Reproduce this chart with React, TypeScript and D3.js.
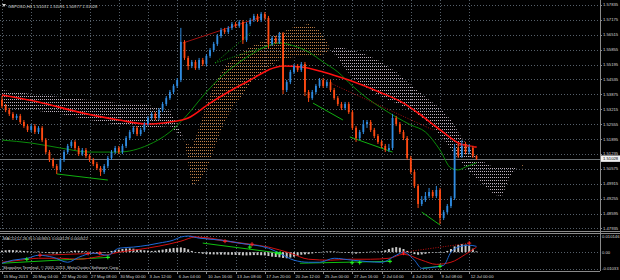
import React from "react";
import * as d3 from "d3";

// ---------- DATA ----------
const symbolTitle = "GBPUSD,H4 1.51031 1.51091 1.50977 1.51028";
const macdTitle = "MACD(12,26,9) 0.003651 0.003129 0.000522";
const copyright = "Skopalino Terminal, \u00a9 2001-2013, MetaQuotes Software Corp.";

const firstOpen = 1.5363;
const closes = [
  1.5336, 1.5318, 1.5301, 1.5283, 1.5292, 1.5265, 1.5247, 1.523, 1.5247, 1.5221,
  1.5239, 1.5185, 1.5132, 1.5097, 1.507, 1.5053, 1.5097, 1.5132, 1.5159, 1.5177,
  1.515, 1.5123, 1.5141, 1.5115, 1.5097, 1.5079, 1.5061, 1.5044, 1.507, 1.5106,
  1.5132, 1.515, 1.5132, 1.5159, 1.5194, 1.5221, 1.5239, 1.5212, 1.523, 1.5256,
  1.5283, 1.5301, 1.5283, 1.5318, 1.5345, 1.5371, 1.5398, 1.5425, 1.5451, 1.562,
  1.5549, 1.5513, 1.5531, 1.5504, 1.554, 1.5522, 1.5558, 1.5584, 1.5611, 1.5646,
  1.5673, 1.5664, 1.5682, 1.5699, 1.569, 1.5708, 1.5628, 1.5699, 1.5717, 1.5735,
  1.5717, 1.5744, 1.5726, 1.5611, 1.5637, 1.562, 1.5655, 1.5407, 1.5442, 1.5487,
  1.5513, 1.5496, 1.5522, 1.5398, 1.5371, 1.5398, 1.5425, 1.5451, 1.5425, 1.5442,
  1.5407, 1.5371, 1.5345, 1.5327, 1.5345, 1.5309, 1.5239, 1.5194, 1.5221, 1.5256,
  1.5265, 1.523, 1.5203, 1.5177, 1.5159, 1.5141, 1.515, 1.5283, 1.5256, 1.5221,
  1.5194, 1.5106, 1.5044, 1.4982, 1.4902, 1.492, 1.4937, 1.4955, 1.4937, 1.4964,
  1.484, 1.4866, 1.4893, 1.4928, 1.515, 1.5115, 1.5159, 1.5132, 1.515, 1.5115,
  1.5103,
];
const highs = [
  1.538, 1.5345, 1.5327, 1.5309, 1.5301, 1.5301, 1.5274, 1.5256, 1.5256, 1.5256,
  1.5247, 1.5247, 1.5194, 1.5141, 1.5106, 1.5079, 1.5106, 1.5141, 1.5168, 1.5185,
  1.5185, 1.5159, 1.515, 1.515, 1.5123, 1.5106, 1.5088, 1.507, 1.5079, 1.5115,
  1.5141, 1.5159, 1.5159, 1.5168, 1.5203, 1.523, 1.5247, 1.5247, 1.5239, 1.5265,
  1.5292, 1.5309, 1.5309, 1.5327, 1.5354, 1.538, 1.5407, 1.5433, 1.546, 1.5682,
  1.5628, 1.5558, 1.554, 1.554, 1.5549, 1.5549, 1.5566, 1.5593, 1.562, 1.5655,
  1.5682, 1.5682, 1.569, 1.5708, 1.5708, 1.5717, 1.5717, 1.5708, 1.5726, 1.5744,
  1.5744, 1.5752, 1.5752, 1.5735, 1.5646, 1.5646, 1.5664, 1.5664, 1.5451, 1.5496,
  1.5522, 1.5522, 1.5531, 1.5531, 1.5407, 1.5407, 1.5433, 1.546, 1.546, 1.5451,
  1.5451, 1.5416, 1.538, 1.5354, 1.5354, 1.5354, 1.5318, 1.5247, 1.523, 1.5274,
  1.5274, 1.5274, 1.5239, 1.5212, 1.5185, 1.5168, 1.5168, 1.5301, 1.5292, 1.5265,
  1.523, 1.5203, 1.5115, 1.5053, 1.499, 1.4937, 1.4955, 1.4973, 1.4964, 1.4982,
  1.4973, 1.4875, 1.4902, 1.4937, 1.5168, 1.5168, 1.5185, 1.5177, 1.5168, 1.5159,
  1.5118,
];
const lows = [
  1.5327, 1.5309, 1.5292, 1.5274, 1.5274, 1.5256, 1.5239, 1.5221, 1.5221, 1.5212,
  1.5212, 1.5177, 1.5123, 1.5088, 1.5061, 1.5035, 1.5044, 1.5088, 1.5123, 1.515,
  1.5141, 1.5115, 1.5115, 1.5106, 1.5088, 1.507, 1.5053, 1.5026, 1.5035, 1.5061,
  1.5097, 1.5123, 1.5123, 1.5123, 1.515, 1.5185, 1.5212, 1.5203, 1.5203, 1.5221,
  1.5247, 1.5274, 1.5274, 1.5274, 1.5309, 1.5336, 1.5363, 1.5389, 1.5416, 1.5442,
  1.554, 1.5496, 1.5504, 1.5496, 1.5496, 1.5513, 1.5513, 1.5549, 1.5575, 1.5602,
  1.5637, 1.5655, 1.5655, 1.5673, 1.5682, 1.5682, 1.5611, 1.562, 1.569, 1.5708,
  1.5708, 1.5708, 1.5717, 1.5593, 1.5602, 1.5611, 1.5611, 1.5389, 1.5398, 1.5433,
  1.5478, 1.5487, 1.5487, 1.538, 1.5354, 1.5363, 1.5389, 1.5416, 1.5416, 1.5416,
  1.5398, 1.5363, 1.5336, 1.5318, 1.5318, 1.5301, 1.523, 1.5177, 1.5185, 1.5212,
  1.5239, 1.5221, 1.5194, 1.5168, 1.515, 1.5132, 1.5132, 1.5141, 1.5247, 1.5212,
  1.5185, 1.5097, 1.5035, 1.4973, 1.4884, 1.4893, 1.4911, 1.4928, 1.4928, 1.4928,
  1.4813, 1.4831, 1.4858, 1.4884, 1.492, 1.5106, 1.5106, 1.5123, 1.5123, 1.5106,
  1.5097,
];

const priceTicks = [
  1.57835, 1.57175, 1.56515, 1.55855, 1.55195, 1.54535, 1.53875, 1.53215,
  1.52555, 1.51895, 1.51235, 1.50575, 1.49915, 1.49255, 1.48595, 1.47935,
];
const lastPrice = 1.51028;

const timeLabels = [
  "15 May 2013", "20 May 04:00", "22 May 20:00", "27 May 08:00", "30 May 00:00",
  "3 Jun 12:00", "6 Jun 04:00", "10 Jun 16:00", "13 Jun 08:00", "17 Jun 20:00",
  "20 Jun 12:00", "25 Jun 00:00", "27 Jun 16:00", "2 Jul 04:00", "4 Jul 20:00",
  "9 Jul 08:00", "12 Jul 00:00",
];
const timeLabelIdx = [0, 8, 16, 24, 32, 40, 48, 56, 64, 72, 80, 88, 96, 104, 112, 120, 128];

// Ichimoku cloud spans
const cloudIdx = [0, 8, 16, 24, 32, 40, 46, 50, 52, 54, 56, 58, 60, 62, 64, 66, 68, 72, 76, 80, 84, 87, 89, 90, 92, 96, 100, 104, 108, 112, 116, 120, 123, 126, 129, 132, 135, 137, 139, 141, 142, 143];
const spanA = [1.5327, 1.5318, 1.5301, 1.5274, 1.5252, 1.5239, 1.5247, 1.5185, 1.515, 1.5239, 1.534, 1.5429, 1.5487, 1.5527, 1.5553, 1.5575, 1.5597, 1.5628, 1.5659, 1.5686, 1.5699, 1.5673, 1.562, 1.5584, 1.5549, 1.546, 1.5416, 1.5376, 1.5349, 1.5318, 1.5274, 1.5208, 1.5141, 1.5084, 1.5031, 1.4986, 1.4942, 1.4937, 1.5017, 1.5061, 1.5066, 1.5079];
const spanB = [1.5407, 1.5389, 1.5376, 1.5363, 1.5349, 1.534, 1.5318, 1.5185, 1.4986, 1.4999, 1.5053, 1.5141, 1.523, 1.5296, 1.5349, 1.5385, 1.5438, 1.5496, 1.554, 1.5553, 1.5553, 1.5558, 1.5575, 1.5584, 1.5597, 1.5584, 1.5562, 1.5531, 1.5487, 1.5429, 1.5376, 1.5327, 1.5274, 1.5194, 1.5128, 1.5088, 1.5061, 1.5061, 1.5061, 1.507, 1.5066, 1.5057];

// Moving averages
const redMaIdx = [0, 10, 21, 32, 40, 46, 51, 57, 62, 68, 73, 77, 82, 88, 95, 104, 110, 114, 119, 123, 125, 130];
const redMa = [1.5385, 1.5354, 1.5309, 1.5274, 1.5256, 1.5265, 1.5283, 1.5349, 1.5398, 1.5451, 1.5496, 1.5513, 1.5509, 1.5487, 1.5451, 1.5394, 1.5349, 1.5305, 1.5243, 1.5194, 1.5172, 1.5154];
const greenMaIdx = [0, 8, 16, 24, 32, 40, 46, 50, 56, 60, 64, 68, 72, 76, 80, 84, 88, 92, 96, 100, 104, 108, 112, 116, 120, 123, 125, 127, 130];
const greenMa = [1.5185, 1.5172, 1.515, 1.5132, 1.5132, 1.5163, 1.5221, 1.5283, 1.5398, 1.5465, 1.5518, 1.5562, 1.5597, 1.5615, 1.5602, 1.5575, 1.5531, 1.5487, 1.5425, 1.5371, 1.5327, 1.5287, 1.5252, 1.5221, 1.5141, 1.5061, 1.5053, 1.5066, 1.5084];

// Trendlines [idx1, price1, idx2, price2]
const redTrends = [[49.5, 1.5615, 71, 1.573], [124.7, 1.5163, 130.1, 1.5154]];
const redDottedTrends = [[89.9, 1.5438, 118.1, 1.523]];
const greenTrends = [[15, 1.5035, 29, 1.5008], [85.2, 1.5349, 93.4, 1.5274], [95.3, 1.5199, 107, 1.5132], [115, 1.4866, 120, 1.4809]];
const greenDottedTrends = [[58.4, 1.5527, 68, 1.5659], [58.4, 1.5527, 73.4, 1.5606]];

// MACD (values in thousandths)
const macdTicks = [10.146, 0, -10.33];
const macdTickLabels = ["0.010146", "0.00", "-0.01033"];
const macdHist = [
  1.0, 1.2, 1.4, 1.3, 1.2, 1.0, 0.8, 0.6,
  0.4, 0.3, 0.5, 0.2, -0.3, -0.6, -0.8, -0.9,
  -0.6, -0.2, 0.3, 0.8, 1.0, 0.9, 0.7, 0.5,
  0.2, -0.2, -0.5, -0.7, -0.4, 0.2, 0.8, 1.2,
  1.6, 2.0, 2.3, 2.4, 2.2, 1.8, 1.5, 1.2,
  1.0, 0.8, 0.9, 1.2, 1.6, 2.0, 2.3, 2.6,
  2.8, 3.0, 2.6, 1.8, 0.8, 0.0, -0.6, -1.0,
  -1.2, -1.3, -1.4, -1.4, -1.5, -1.5, -1.6, -1.6,
  -1.7, -1.8, -2.0, -2.0, -1.9, -1.8, -1.8, -1.9,
  -2.0, -2.4, -2.8, -3.0, -3.2, -3.6, -3.8, -3.4,
  -2.8, -2.2, -1.6, -1.4, -1.2, -0.8, -0.4, 0.0,
  0.3, 0.5, 0.6, 0.5, 0.3, 0.0, -0.3, -0.5,
  -0.8, -0.9, -0.6, -0.2, 0.2, 0.4, 0.5, 0.4,
  0.6, 1.2, 2.0, 2.8, 3.2, 2.8, 2.0, 0.8,
  -0.4, -1.2, -1.6, -1.4, -1.0, -0.6, -0.3, 0.0,
  -0.2, 0.0, 0.8, 2.0, 3.6, 4.6, 5.0, 4.8,
  4.0, 2.2, 0.5,
];
const macdMainIdx = [0, 3, 7, 10, 14, 18, 21, 25, 29, 32, 36, 40, 43, 47, 49, 51, 54, 60, 65, 73, 76, 80, 84, 87, 91, 96, 104, 108, 110, 113, 115, 118, 121, 123, 125, 128, 130];
const macdMain = [-6.9, -5.0, -3.8, -1.9, -3.2, -6.3, -3.2, -0.6, -1.9, 2.5, 3.2, 4.4, 5.7, 7.6, 9.5, 10.1, 8.8, 7.6, 5.7, 2.5, -0.6, -5.0, -6.3, -6.3, -3.8, -5.0, -6.3, -1.9, 0, -5.0, -10.1, -9.5, -8.2, 0, 3.2, 4.4, 3.65];
const macdSigIdx = [0, 5, 10, 16, 21, 27, 32, 38, 43, 49, 53, 57, 62, 68, 73, 79, 84, 90, 95, 101, 106, 110, 115, 119, 123, 127, 130];
const macdSig = [-6.3, -5.0, -3.8, -3.8, -4.4, -2.5, 0, 1.9, 3.8, 6.9, 9.5, 8.8, 6.9, 5.0, 3.2, -0.6, -4.4, -5.0, -4.4, -4.4, -3.8, -1.3, -5.0, -7.6, -6.3, -1.3, 3.13];
const macdGreenTrends = [[0, -6.9, 29.6, -3.2], [55, 5.7, 76.2, -0.6], [81.6, -6.9, 106.3, -5.7], [115.3, -10.0, 120, -8.8]];
const macdRedTrends = [[10.4, -1.9, 26.8, -0.6], [51.5, 10.1, 68.8, 4.4]];
const macdRedDotted = [[109.9, 0, 128.2, 5.7]];
const macdGreenMarks = [[6.8, -4.4], [29, -3.2], [67.9, 3.2], [75.3, -0.6], [76.2, -0.6], [95.9, -6.6], [98, -6.5], [106.3, -5.7], [120, -8.8]];
const macdRedMarks = [[10.4, -1.9], [23.6, -0.8], [26.8, -0.6], [61.1, 6.9], [68.5, 5.0], [110, -0.6], [128, 5.7]];

// ---------- CHART ----------
const W = 620;
const AX = 600; // right axis x
const MAIN_B = 231;
const MACD_T = 233;
const MACD_B = 271;
const FONT = "'Liberation Sans', Arial, sans-serif";
const FS = 4.2;

export default function App() {
  const x = d3.scaleLinear().domain([0, 130]).range([2, 2 + 130 * 3.65]);
  const y = d3.scaleLinear().domain([1.47779, 1.58056]).range([232, 0]);
  const ym = d3.scaleLinear().domain([-10.33, 10.146]).range([268.7, 236]);

  const opens = closes.map((c, i) => (i === 0 ? firstOpen : closes[i - 1]));

  const lineP = (idx: number[], vals: number[]) =>
    d3.line<number>().x((_, i) => x(idx[i])).y((v) => y(v)).curve(d3.curveMonotoneX)(vals) || "";
  const lineM = (idx: number[], vals: number[]) =>
    d3.line<number>().x((_, i) => x(idx[i])).y((v) => ym(v)).curve(d3.curveMonotoneX)(vals) || "";

  const ix = cloudIdx.map((_, i) => i);
  const belowA = d3.area<number>().x((i) => x(cloudIdx[i])).y0(232).y1((i) => y(spanA[i]))(ix) || "";
  const aboveB = d3.area<number>().x((i) => x(cloudIdx[i])).y0(0).y1((i) => y(spanB[i]))(ix) || "";
  const belowB = d3.area<number>().x((i) => x(cloudIdx[i])).y0(232).y1((i) => y(spanB[i]))(ix) || "";
  const aboveA = d3.area<number>().x((i) => x(cloudIdx[i])).y0(0).y1((i) => y(spanA[i]))(ix) || "";

  const gridColor = "#56606a";
  const frame = "#8a8a8a";
  const txt = "#d8d8d8";
  const up = "#2f8be0";
  const dn = "#ff4a12";

  const cross = (cx: number, cy: number, col: string, k: string) => (
    <g key={k} stroke={col} strokeWidth={1}>
      <line x1={cx - 2} x2={cx + 2} y1={cy} y2={cy} />
      <line x1={cx} x2={cx} y1={cy - 2} y2={cy + 2} />
    </g>
  );

  return (
    <svg width={W} height={280} style={{ position: "fixed", left: 0, top: 0, background: "#000", display: "block" }}>
      <defs>
        <pattern id="tanDots" width="2" height="3" patternUnits="userSpaceOnUse">
          <rect width="1" height="1" fill="#c08048" />
        </pattern>
        <pattern id="whiteDots" width="2" height="3" patternUnits="userSpaceOnUse">
          <rect width="1" height="1" fill="#bcb0bc" />
        </pattern>
        <clipPath id="clipAboveB"><path d={aboveB} /></clipPath>
        <clipPath id="clipAboveA"><path d={aboveA} /></clipPath>
        <clipPath id="mainClip"><rect x={0} y={0} width={AX} height={MAIN_B} /></clipPath>
        <clipPath id="macdClip"><rect x={0} y={MACD_T} width={AX} height={MACD_B - MACD_T} /></clipPath>
      </defs>
      <rect x={0} y={0} width={W} height={280} fill="#000" />

      {/* grid main */}
      <g stroke={gridColor} strokeWidth={1} strokeDasharray="1,2">
        {priceTicks.map((p) => (
          <line key={p} x1={0} x2={AX} y1={Math.round(y(p)) + 0.5} y2={Math.round(y(p)) + 0.5} />
        ))}
        {timeLabelIdx.map((t) => (
          <line key={"v" + t} x1={Math.round(x(t)) + 0.5} x2={Math.round(x(t)) + 0.5} y1={0} y2={MAIN_B} />
        ))}
        {timeLabelIdx.map((t) => (
          <line key={"vm" + t} x1={Math.round(x(t)) + 0.5} x2={Math.round(x(t)) + 0.5} y1={MACD_T} y2={MACD_B} />
        ))}
        {macdTicks.map((v) => (
          <line key={"mh" + v} x1={0} x2={AX} y1={Math.round(ym(v)) + 0.5} y2={Math.round(ym(v)) + 0.5} />
        ))}
      </g>

      <g clipPath="url(#mainClip)">
        {/* cloud */}
        <g clipPath="url(#clipAboveB)"><path d={belowA} fill="url(#tanDots)" /></g>
        <g clipPath="url(#clipAboveA)"><path d={belowB} fill="url(#whiteDots)" /></g>

        {/* current price line */}
        <line x1={0} x2={AX} y1={Math.round(y(lastPrice)) + 0.5} y2={Math.round(y(lastPrice)) + 0.5} stroke="#6e7478" strokeWidth={1} />

        {/* MAs */}
        <path d={lineP(greenMaIdx, greenMa)} fill="none" stroke="#0a8a0a" strokeWidth={1} />
        <path d={lineP(redMaIdx, redMa)} fill="none" stroke="#ff1010" strokeWidth={1.6} />

        {/* trendlines */}
        {redTrends.map((t, i) => (
          <line key={"rt" + i} x1={x(t[0])} y1={y(t[1])} x2={x(t[2])} y2={y(t[3])} stroke="#a01010" strokeWidth={1} />
        ))}
        {redDottedTrends.map((t, i) => (
          <line key={"rd" + i} x1={x(t[0])} y1={y(t[1])} x2={x(t[2])} y2={y(t[3])} stroke="#a01010" strokeWidth={1} strokeDasharray="1,1.5" />
        ))}
        {greenTrends.map((t, i) => (
          <line key={"gt" + i} x1={x(t[0])} y1={y(t[1])} x2={x(t[2])} y2={y(t[3])} stroke="#10b010" strokeWidth={1} />
        ))}
        {greenDottedTrends.map((t, i) => (
          <line key={"gd" + i} x1={x(t[0])} y1={y(t[1])} x2={x(t[2])} y2={y(t[3])} stroke="#10a010" strokeWidth={1} strokeDasharray="1,1.5" />
        ))}

        {/* candles */}
        {closes.map((c, i) => {
          const o = opens[i];
          const col = c >= o ? up : dn;
          const cx = x(i);
          const top = y(Math.max(o, c));
          const bot = y(Math.min(o, c));
          return (
            <g key={"c" + i}>
              <line x1={cx} x2={cx} y1={y(highs[i])} y2={y(lows[i])} stroke={col} strokeWidth={1} />
              <rect x={cx - 0.9} y={top} width={1.8} height={Math.max(1, bot - top)} fill={col} />
            </g>
          );
        })}
      </g>

      {/* MACD panel */}
      <g clipPath="url(#macdClip)">
        {macdHist.map((v, i) => (
          <rect key={"h" + i} x={x(i) - 1} width={2} y={Math.min(ym(v), ym(0))} height={Math.max(0.6, Math.abs(ym(v) - ym(0)))} fill="#c8c8c8" />
        ))}
        {macdGreenTrends.map((t, i) => (
          <line key={"mg" + i} x1={x(t[0])} y1={ym(t[1])} x2={x(t[2])} y2={ym(t[3])} stroke="#10c010" strokeWidth={1} />
        ))}
        {macdRedTrends.map((t, i) => (
          <line key={"mr" + i} x1={x(t[0])} y1={ym(t[1])} x2={x(t[2])} y2={ym(t[3])} stroke="#c01010" strokeWidth={1} />
        ))}
        {macdRedDotted.map((t, i) => (
          <line key={"mrd" + i} x1={x(t[0])} y1={ym(t[1])} x2={x(t[2])} y2={ym(t[3])} stroke="#c01010" strokeWidth={1} strokeDasharray="1,1.5" />
        ))}
        <path d={lineM(macdSigIdx, macdSig)} fill="none" stroke="#d01010" strokeWidth={1} />
        <path d={lineM(macdMainIdx, macdMain)} fill="none" stroke="#1e6ad8" strokeWidth={1} />
        {macdGreenMarks.map((m, i) => cross(x(m[0]), ym(m[1]), "#20ff20", "gm" + i))}
        {macdRedMarks.map((m, i) => cross(x(m[0]), ym(m[1]), "#ff2020", "rm" + i))}
      </g>

      {/* frames */}
      <g stroke={frame} strokeWidth={1} fill="none">
        <line x1={AX + 0.5} x2={AX + 0.5} y1={0} y2={MACD_B} />
        <line x1={0} x2={W} y1={MAIN_B + 0.5} y2={MAIN_B + 0.5} />
        <line x1={0} x2={W} y1={MACD_T + 0.5} y2={MACD_T + 0.5} />
        <line x1={0} x2={AX} y1={MACD_B + 0.5} y2={MACD_B + 0.5} />
      </g>

      {/* right axis labels */}
      <g fontFamily={FONT} fontSize={FS} fill={txt}>
        {priceTicks.map((p) => (
          <g key={"pl" + p}>
            <line x1={AX} x2={AX + 2} y1={Math.round(y(p)) + 0.5} y2={Math.round(y(p)) + 0.5} stroke={frame} />
            <text x={AX + 3} y={y(p) + 1.5}>{p.toFixed(5)}</text>
          </g>
        ))}
        {macdTicks.map((v, i) => (
          <text key={"ml" + i} x={AX + 2} y={ym(v) + 1.5}>{macdTickLabels[i]}</text>
        ))}
      </g>
      <rect x={AX + 1} y={y(lastPrice) - 3.2} width={W - AX - 1} height={6.4} fill="#f2f2f2" />
      <text x={AX + 3} y={y(lastPrice) + 1.5} fontFamily={FONT} fontSize={FS} fill="#000">{lastPrice.toFixed(5)}</text>

      {/* time axis */}
      <g fontFamily={FONT} fontSize={FS} fill={txt}>
        {timeLabels.map((l, k) => (
          <g key={"tl" + k}>
            <line x1={Math.round(x(timeLabelIdx[k])) + 0.5} x2={Math.round(x(timeLabelIdx[k])) + 0.5} y1={MACD_B} y2={MACD_B + 3} stroke={frame} />
            <text x={x(timeLabelIdx[k]) + 1.5} y={278}>{l}</text>
          </g>
        ))}
      </g>

      {/* titles */}
      <polygon points="2,4 6,4 4,7" fill="#cfcfcf" />
      <text x={8} y={7.5} fontFamily={FONT} fontSize={FS} fill={txt}>{symbolTitle}</text>
      <text x={3} y={240} fontFamily={FONT} fontSize={FS} fill={txt}>{macdTitle}</text>
      <text x={3} y={269} fontFamily={FONT} fontSize={FS} fill={txt}>{copyright}</text>
    </svg>
  );
}
